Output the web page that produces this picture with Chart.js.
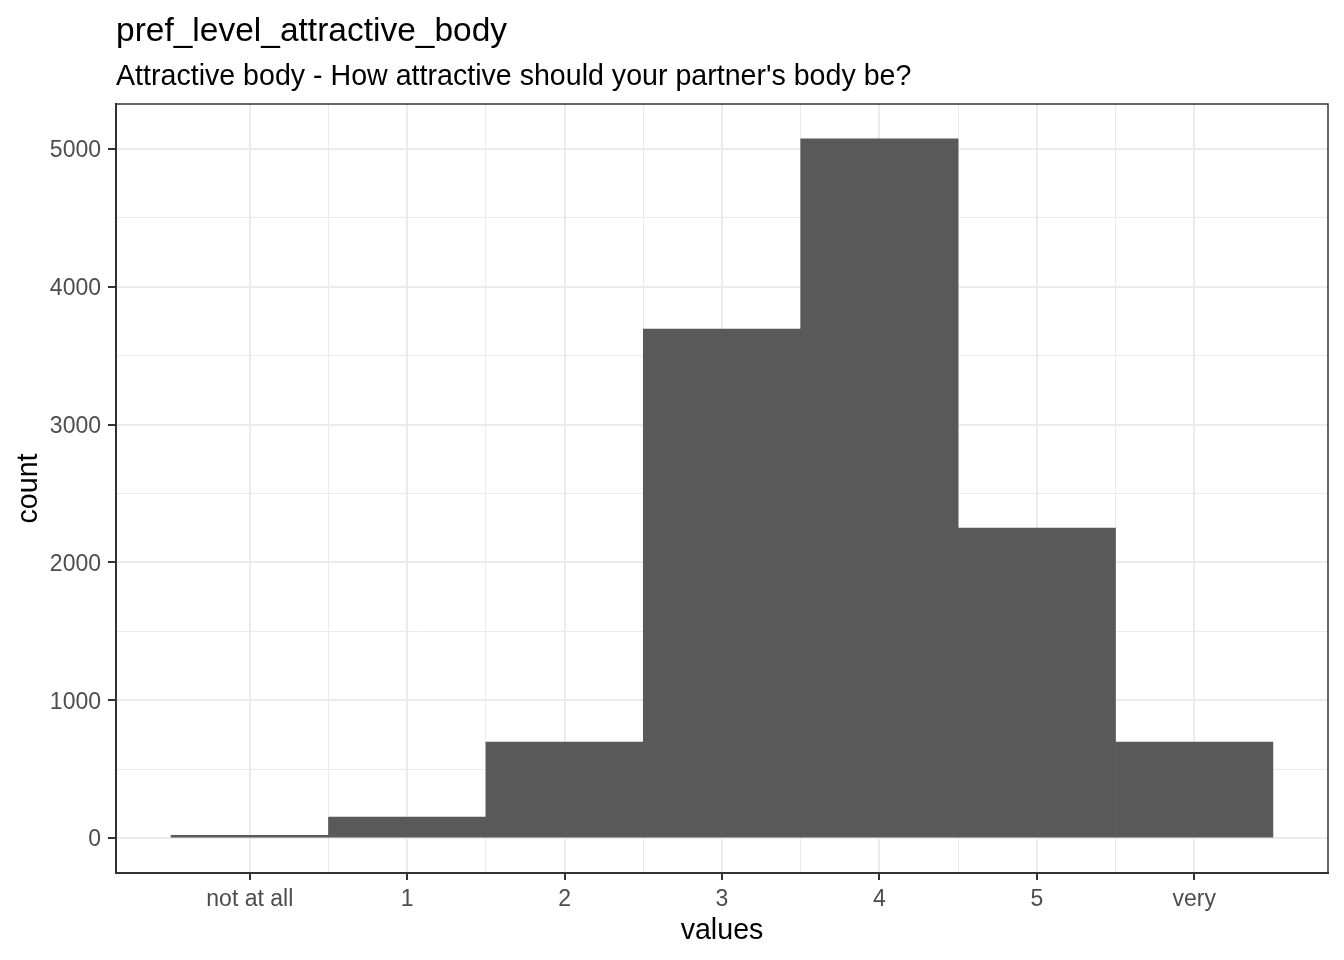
<!DOCTYPE html>
<html>
<head>
<meta charset="utf-8">
<script src="https://cdn.jsdelivr.net/npm/chart.js@4"></script>
<style>
  body { margin: 0; background: #fff; }
  #wrap { width: 1344px; height: 960px; }
</style>
</head>
<body>
<div id="wrap"><canvas id="hist"></canvas></div>
<script>
// data
const categories = ["not at all", "1", "2", "3", "4", "5", "very"];
const counts = [20, 152, 697, 3694, 5073, 2250, 697];
const yTicks = [0, 1000, 2000, 3000, 4000, 5000];

const FONT = "'Liberation Sans', Arial, sans-serif";

// ggplot-like expansion of 5%
const yMax = Math.max(...counts);
const yPad = yMax * 0.05;

// titles and frame drawn relative to the panel
const panelDecor = {
  id: "panelDecor",
  afterDraw(chart) {
    const { ctx, chartArea: a } = chart;
    ctx.save();
    ctx.strokeStyle = "#333333";
    ctx.lineWidth = 1.5;
    ctx.strokeRect(a.left, a.top, a.right - a.left, a.bottom - a.top);

    ctx.fillStyle = "#000";
    ctx.textAlign = "left";
    ctx.textBaseline = "alphabetic";
    ctx.font = "33.5px " + FONT;
    ctx.fillText("pref_level_attractive_body", a.left, 41);
    ctx.font = "28.6px " + FONT;
    ctx.fillText("Attractive body - How attractive should your partner's body be?", a.left, 85);

    ctx.textAlign = "center";
    ctx.fillText("values", (a.left + a.right) / 2, 939);
    ctx.translate(37, (a.top + a.bottom) / 2);
    ctx.rotate(-Math.PI / 2);
    ctx.fillText("count", 0, 0);
    ctx.restore();
  },
};

const isMajor = v => Math.abs(v - Math.round(v)) < 1e-9;
const tickVal = c => (c && c.tick ? c.tick.value : 0);

let ctx = document.getElementById("hist").getContext("2d");
new Chart(ctx, {
  type: "bar",
  data: {
    datasets: [
      {
        data: counts.map((c, i) => ({ x: i, y: c })),
        backgroundColor: "#595959",
        barThickness: "flex",
        barPercentage: 1,
        categoryPercentage: 1,
        borderWidth: 0,
      },
    ],
  },
  options: {
    responsive: true,
    maintainAspectRatio: false,
    animation: false,
    layout: { padding: { top: 104, right: 16, left: 0, bottom: 0 } },
    plugins: {
      legend: { display: false },
      tooltip: { enabled: false },
    },
    scales: {
      x: {
        type: "linear",
        offset: false,
        min: -0.85,
        max: categories.length - 1 + 0.85,
        afterBuildTicks: scale => {
          const t = [];
          for (let v = 0; v <= categories.length - 1; v += 0.5) t.push({ value: v });
          scale.ticks = t;
        },
        afterFit: scale => { scale.height = 87; },
        grid: {
          offset: false,
          color: "#EBEBEB",
          lineWidth: c => (isMajor(tickVal(c)) ? 2 : 1),
          tickColor: c => (isMajor(tickVal(c)) ? "#333333" : "rgba(0,0,0,0)"),
          tickWidth: 2,
          tickLength: 7,
        },
        border: { color: "#333333", width: 2 },
        ticks: {
          autoSkip: false,
          maxRotation: 0,
          padding: 6,
          color: "#4D4D4D",
          font: { family: FONT, size: 23 },
          callback: v => (isMajor(v) ? categories[Math.round(v)] : ""),
        },
      },
      y: {
        min: -yPad,
        max: yMax + yPad,
        afterBuildTicks: scale => {
          const t = [];
          for (let v = 0; v <= 5000; v += 500) t.push({ value: v });
          scale.ticks = t;
        },
        afterFit: scale => { scale.width = 116; },
        grid: {
          color: "#EBEBEB",
          lineWidth: c => (tickVal(c) % 1000 === 0 ? 2 : 1),
          tickColor: c => (tickVal(c) % 1000 === 0 ? "#333333" : "rgba(0,0,0,0)"),
          tickWidth: 2,
          tickLength: 8,
        },
        border: { color: "#333333", width: 2 },
        ticks: {
          padding: 7,
          labelOffset: 2,
          color: "#4D4D4D",
          font: { family: FONT, size: 23 },
          callback: v => (yTicks.includes(v) ? String(v) : ""),
        },
      },
    },
  },
  plugins: [panelDecor],
});
</script>
</body>
</html>
